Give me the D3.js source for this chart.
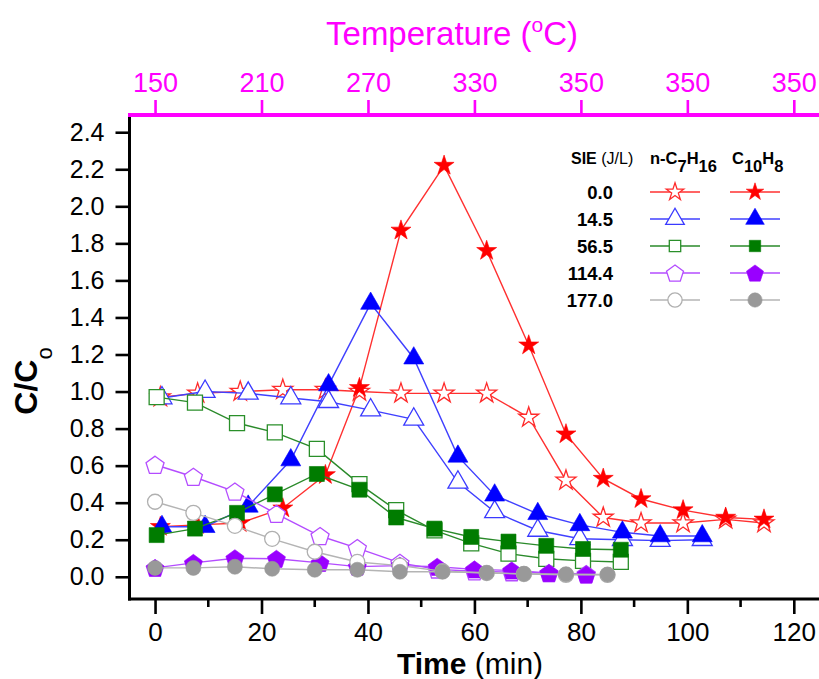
<!DOCTYPE html>
<html>
<head>
<meta charset="utf-8">
<script src="https://cdn.jsdelivr.net/npm/d3@7/dist/d3.min.js"></script>
<style>
  body { margin: 0; background: #fff; }
  text { font-family: "Liberation Sans", Arial, sans-serif; }
</style>
</head>
<body>
<svg id="chart" width="819" height="679"></svg>
<script>
/* ── data ───────────────────────────────────────────────────────────── */

const sieLabels = ['0.0', '14.5', '56.5', '114.4', '177.0'];

const timeStar   = [1, 8, 16, 24, 32, 38.4, 46.2, 54.3, 62.3, 70.2, 77.2, 84.2, 91.3, 99.2, 107.2, 114.4];
const heptane0   = [0.97, 0.99, 1.0, 1.01, 1.01, 1.0, 0.99, 0.99, 0.99, 0.86, 0.52, 0.32, 0.29, 0.29, 0.31, 0.29];
const naph0      = [0.27, 0.28, 0.29, 0.37, 0.55, 1.02, 1.87, 2.22, 1.76, 1.25, 0.77, 0.53, 0.42, 0.36, 0.32, 0.31];

const timeTri    = [1.3, 9.4, 17.5, 25.5, 32.6, 40.5, 48.6, 56.9, 63.8, 71.9, 79.8, 87.8, 94.9, 102.8];
const heptane14  = [0.965, 1.0, 0.99, 0.965, 0.945, 0.90, 0.85, 0.51, 0.35, 0.25, 0.205, 0.20, 0.195, 0.20];
const naph14     = [0.27, 0.27, 0.38, 0.63, 1.035, 1.475, 1.18, 0.65, 0.44, 0.34, 0.28, 0.24, 0.22, 0.22];

const timeSq     = [0.3, 7.5, 15.4, 22.5, 30.4, 38.4, 45.3, 52.5, 59.4, 66.4, 73.5, 80.4, 87.5];
const heptane56  = [0.97, 0.94, 0.83, 0.78, 0.69, 0.50, 0.36, 0.25, 0.18, 0.125, 0.097, 0.086, 0.08];
const naph56     = [0.225, 0.26, 0.345, 0.445, 0.555, 0.47, 0.32, 0.26, 0.215, 0.19, 0.167, 0.15, 0.146];

const timePent   = [0, 7.2, 15, 22.8, 31, 38, 46, 53, 60, 67, 74, 81];
const heptane114 = [0.605, 0.54, 0.46, 0.34, 0.22, 0.155, 0.075, 0.04, 0.03, 0.025, 0.02, 0.015];
const naph114    = [0.048, 0.075, 0.10, 0.097, 0.075, 0.055, 0.06, 0.054, 0.04, 0.034, 0.02, 0.012];

const timeCirc   = [0, 7.2, 15, 22, 30, 38, 46, 54, 62.3, 69.3, 77.2, 85];
const heptane177 = [0.405, 0.345, 0.275, 0.205, 0.135, 0.08, 0.06, 0.03, 0.02, 0.015, 0.01, 0.01];
const naph177    = [0.048, 0.048, 0.054, 0.043, 0.038, 0.038, 0.027, 0.027, 0.022, 0.016, 0.014, 0.012];

const timeTicks  = [0, 20, 40, 60, 80, 100, 120];
const timeMinor  = [10, 30, 50, 70, 90, 110];
const tempLabels = ['150', '210', '270', '330', '350', '350', '350'];
const yTicks     = [0, 0.2, 0.4, 0.6, 0.8, 1.0, 1.2, 1.4, 1.6, 1.8, 2.0, 2.2, 2.4];

/* ── styles ─────────────────────────────────────────────────────────── */

const pentagon = {
  draw(ctx, size) {
    const r = Math.sqrt(size / 2.3776);
    for (let k = 0; k < 5; k++) {
      const a = -Math.PI / 2 + k * 2 * Math.PI / 5;
      const px = r * Math.cos(a), py = r * Math.sin(a) + r * 0.1;
      k ? ctx.lineTo(px, py) : ctx.moveTo(px, py);
    }
    ctx.closePath();
  }
};

const styles = [
  { shape: d3.symbolStar,     size: 124, lsize: 95,  open: '#ff2a2a', fill: '#ff0000', line: '#ff3030' },
  { shape: d3.symbolTriangle, size: 173, lsize: 150, open: '#3a3aff', fill: '#0000ff', line: '#4040ff' },
  { shape: d3.symbolSquare,   size: 225, lsize: 130, open: '#2a8f2a', fill: '#007c00', line: '#2a8a2a' },
  { shape: pentagon,          size: 214, lsize: 190, open: '#b44cff', fill: '#9900ff', line: '#b44cff' },
  { shape: d3.symbolCircle,   size: 177, lsize: 160, open: '#b0b0b0', fill: '#999999', line: '#b4b4b4' },
];

const series = [
  { time: timeStar, open: heptane0,   filled: naph0   },
  { time: timeTri,  open: heptane14,  filled: naph14  },
  { time: timeSq,   open: heptane56,  filled: naph56  },
  { time: timePent, open: heptane114, filled: naph114 },
  { time: timeCirc, open: heptane177, filled: naph177 },
];

/* ── layout ─────────────────────────────────────────────────────────── */

const W = 819, H = 679;
const L = 129.5, R = 830, T = 115, B = 599;
const MAGENTA = '#ff00ff';
const FONT = '"Liberation Sans", Arial, sans-serif';

const svg = d3.select('#chart');
const x = d3.scaleLinear().domain([-4.8, 126.8]).range([L, R]);
const y = d3.scaleLinear().domain([-0.12, 2.493]).range([B, T]);

const plot = svg.append('g');
const line = d3.line().x(d => x(d[0])).y(d => y(d[1]));

/* ── series ─────────────────────────────────────────────────────────── */

series.forEach((s, i) => {
  const st = styles[i];
  const openPts   = s.time.map((t, j) => [t, s.open[j]]);
  const filledPts = s.time.map((t, j) => [t, s.filled[j]]);
  const g = plot.append('g');

  g.append('path').datum(openPts).attr('d', line)
    .attr('fill', 'none').attr('stroke', st.line).attr('stroke-width', 1.4);
  g.selectAll('path.open').data(openPts).join('path')
    .attr('class', 'open')
    .attr('transform', d => `translate(${x(d[0])},${y(d[1])})`)
    .attr('d', d3.symbol().type(st.shape).size(st.size))
    .attr('fill', '#fff').attr('stroke', st.open).attr('stroke-width', 1.3);

  g.append('path').datum(filledPts).attr('d', line)
    .attr('fill', 'none').attr('stroke', st.line).attr('stroke-width', 1.4);
  g.selectAll('path.filled').data(filledPts).join('path')
    .attr('class', 'filled')
    .attr('transform', d => `translate(${x(d[0])},${y(d[1])})`)
    .attr('d', d3.symbol().type(st.shape).size(st.size))
    .attr('fill', st.fill).attr('stroke', st.fill).attr('stroke-width', 0.6);
});

/* ── axes ───────────────────────────────────────────────────────────── */

// left
const yAxis = svg.append('g').attr('transform', `translate(${L},0)`)
  .call(d3.axisLeft(y).tickValues(yTicks).tickFormat(d3.format('.1f'))
    .tickSize(14).tickPadding(11).tickSizeOuter(0));
yAxis.select('.domain').remove();
yAxis.selectAll('.tick line').attr('stroke', '#000').attr('stroke-width', 2.6);
yAxis.selectAll('.tick text').attr('font-size', 25).attr('fill', '#000').attr('font-family', FONT);

// bottom
const xAxis = svg.append('g').attr('transform', `translate(0,${B})`)
  .call(d3.axisBottom(x).tickValues(timeTicks).tickFormat(d3.format('d'))
    .tickSize(15).tickPadding(9).tickSizeOuter(0));
xAxis.select('.domain').remove();
xAxis.selectAll('.tick line').attr('stroke', '#000').attr('stroke-width', 2.6);
xAxis.selectAll('.tick text').attr('font-size', 26).attr('fill', '#000').attr('font-family', FONT);
svg.append('g').selectAll('line').data(timeMinor).join('line')
  .attr('x1', d => x(d)).attr('x2', d => x(d))
  .attr('y1', B).attr('y2', B + 8)
  .attr('stroke', '#000').attr('stroke-width', 2.6);

// top (temperature)
const tAxis = svg.append('g').attr('transform', `translate(0,${T})`)
  .call(d3.axisTop(x).tickValues(timeTicks).tickFormat((d, i) => tempLabels[i])
    .tickSize(15).tickPadding(8).tickSizeOuter(0));
tAxis.select('.domain').remove();
tAxis.selectAll('.tick line').attr('stroke', MAGENTA).attr('stroke-width', 2.6);
tAxis.selectAll('.tick text').attr('font-size', 27).attr('fill', MAGENTA).attr('font-family', FONT);

// frame lines
svg.append('line').attr('x1', L).attr('x2', L).attr('y1', T).attr('y2', B + 1.5)
  .attr('stroke', '#000').attr('stroke-width', 3);
svg.append('line').attr('x1', L - 1.5).attr('x2', W).attr('y1', B).attr('y2', B)
  .attr('stroke', '#000').attr('stroke-width', 3);
svg.append('line').attr('x1', L - 1.5).attr('x2', W).attr('y1', T).attr('y2', T)
  .attr('stroke', MAGENTA).attr('stroke-width', 4);

/* ── axis titles ────────────────────────────────────────────────────── */

const topTitle = svg.append('text').attr('x', 452).attr('y', 45)
  .attr('text-anchor', 'middle').attr('font-size', 33).attr('fill', MAGENTA);
topTitle.append('tspan').text('Temperature (');
topTitle.append('tspan').attr('font-size', 21).attr('dy', -13).text('o');
topTitle.append('tspan').attr('dy', 13).text('C)');

const botTitle = svg.append('text').attr('x', 470).attr('y', 674)
  .attr('text-anchor', 'middle').attr('font-size', 30).attr('fill', '#000');
botTitle.append('tspan').attr('font-weight', 'bold').text('Time');
botTitle.append('tspan').text(' (min)');

const yTitle = svg.append('text').attr('transform', 'translate(37,381) rotate(-90)')
  .attr('text-anchor', 'middle').attr('font-size', 32).attr('fill', '#000');
yTitle.append('tspan').attr('font-weight', 'bold').text('C/C');
yTitle.append('tspan').attr('font-size', 22).attr('dy', 15).text('o');

/* ── legend ─────────────────────────────────────────────────────────── */

const lg = svg.append('g');
const hdr = lg.append('text').attr('x', 571).attr('y', 164).attr('font-size', 16).attr('fill', '#000');
hdr.append('tspan').attr('font-weight', 'bold').text('SIE');
hdr.append('tspan').text(' (J/L)');

const h1 = lg.append('text').attr('x', 650).attr('y', 164).attr('font-size', 16.5)
  .attr('font-weight', 'bold').attr('fill', '#000');
h1.append('tspan').text('n-C');
h1.append('tspan').attr('dy', 8).text('7');
h1.append('tspan').attr('dy', -8).text('H');
h1.append('tspan').attr('dy', 8).text('16');

const h2 = lg.append('text').attr('x', 732).attr('y', 164).attr('font-size', 16.5)
  .attr('font-weight', 'bold').attr('fill', '#000');
h2.append('tspan').text('C');
h2.append('tspan').attr('dy', 8).text('10');
h2.append('tspan').attr('dy', -8).text('H');
h2.append('tspan').attr('dy', 8).text('8');

const rowY = d3.scaleLinear().domain([0, 4]).range([192, 300]);
sieLabels.forEach((lab, i) => {
  const st = styles[i];
  const yy = rowY(i);
  lg.append('text').attr('x', 613).attr('y', yy + 6.5).attr('text-anchor', 'end')
    .attr('font-size', 18.5).attr('font-weight', 'bold').attr('fill', '#000').text(lab);

  [[675, false], [755, true]].forEach(([cx, filled]) => {
    lg.append('line').attr('x1', cx - 25).attr('x2', cx + 25).attr('y1', yy).attr('y2', yy)
      .attr('stroke', st.line).attr('stroke-width', 1.4);
    lg.append('path').attr('transform', `translate(${cx},${yy})`)
      .attr('d', d3.symbol().type(st.shape).size(st.lsize))
      .attr('fill', filled ? st.fill : '#fff')
      .attr('stroke', filled ? st.fill : st.open)
      .attr('stroke-width', filled ? 0.6 : 1.3);
  });
});
</script>
</body>
</html>
